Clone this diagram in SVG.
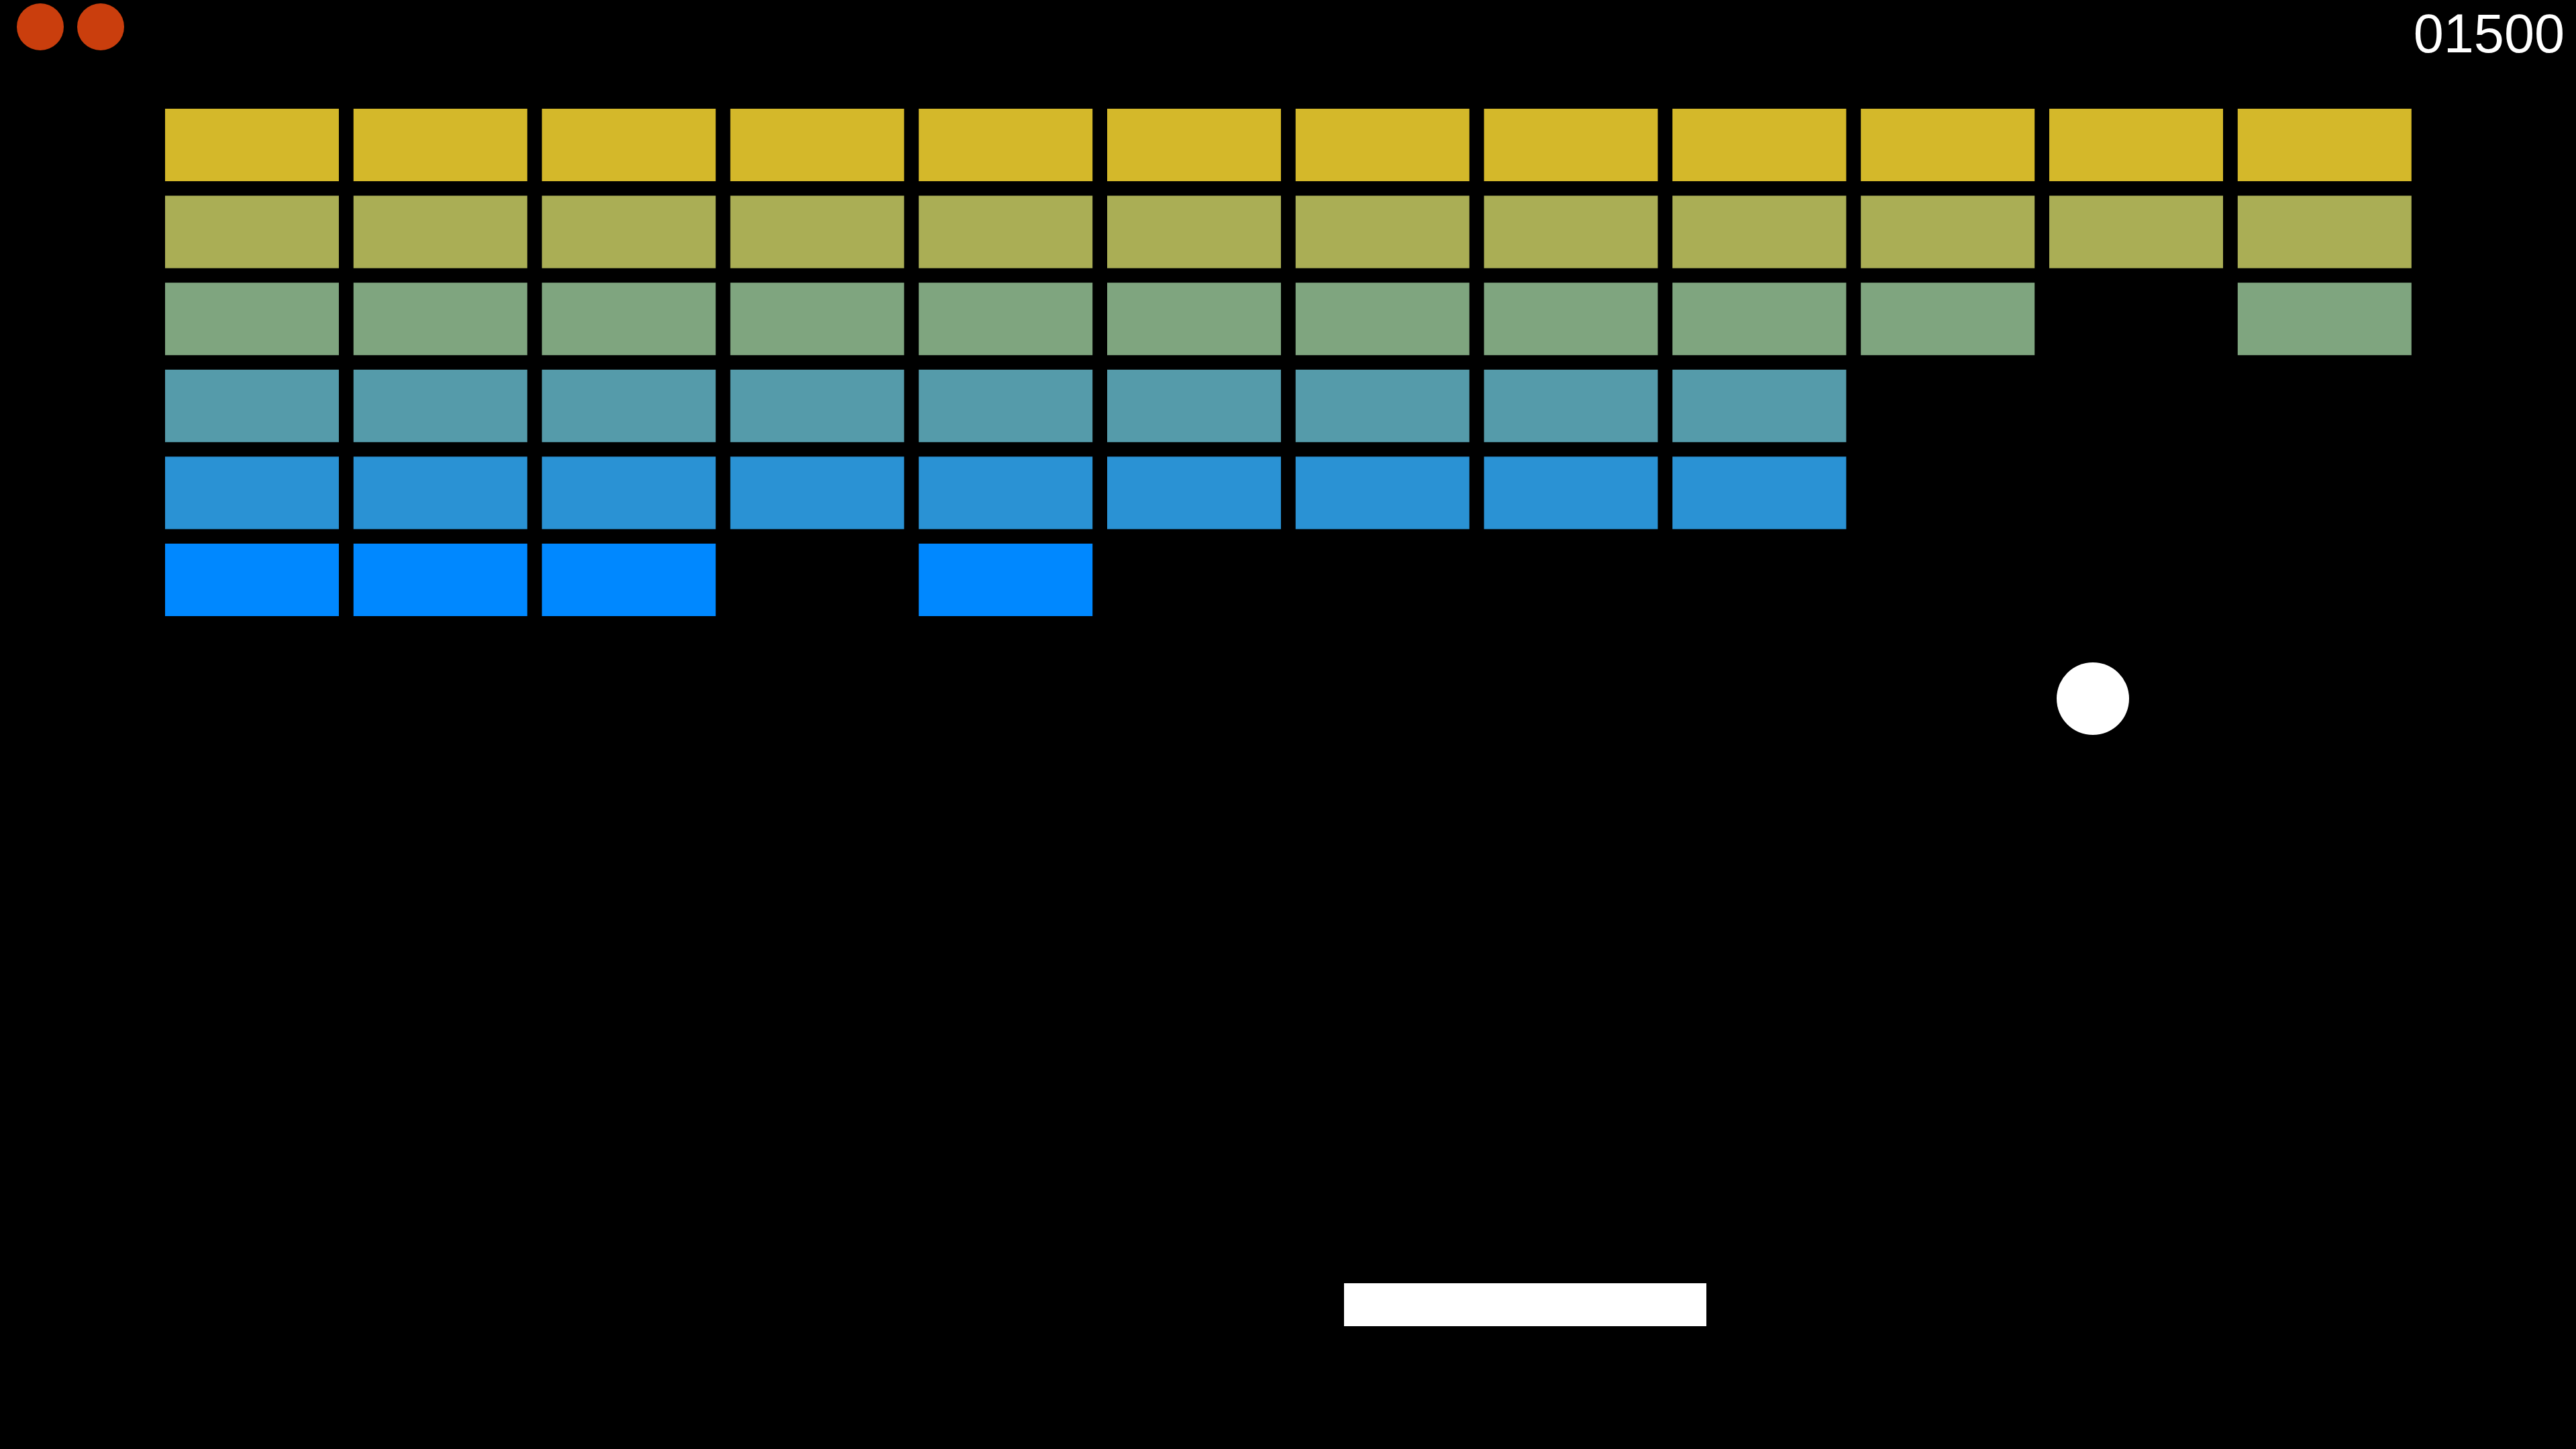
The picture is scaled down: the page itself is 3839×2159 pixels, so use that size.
<svg xmlns="http://www.w3.org/2000/svg" width="3839" height="2159" viewBox="0 0 3839 2159">
<style>
.r1{fill:#D4B82A}.r2{fill:#AAAE55}.r3{fill:#7FA57F}.r4{fill:#559BAA}.r5{fill:#2A92D4}.r6{fill:#0088FF}
.life{fill:#CA3E0D}
.score{font-family:"Liberation Sans",Arial,sans-serif;font-size:81px;fill:#FFFFFF}
</style>
<defs>
<rect id="brick" width="259" height="108"/>
</defs>
<rect x="0" y="0" width="3839" height="2159" fill="#000000"/>
<g id="lives">
<circle class="life" cx="60" cy="40" r="35"/>
<circle class="life" cx="150" cy="40" r="35"/>
</g>
<g id="score"><text class="score" x="3822" y="78" text-anchor="end">01500</text></g>
<g id="bricks">
<g id="row1" class="r1">
<use href="#brick" x="246" y="162"/><use href="#brick" x="526.8" y="162"/><use href="#brick" x="807.6" y="162"/><use href="#brick" x="1088.4" y="162"/><use href="#brick" x="1369.2" y="162"/><use href="#brick" x="1650" y="162"/><use href="#brick" x="1930.8" y="162"/><use href="#brick" x="2211.6" y="162"/><use href="#brick" x="2492.4" y="162"/><use href="#brick" x="2773.2" y="162"/><use href="#brick" x="3054" y="162"/><use href="#brick" x="3334.8" y="162"/>
</g>
<g id="row2" class="r2">
<use href="#brick" x="246" y="291.6"/><use href="#brick" x="526.8" y="291.6"/><use href="#brick" x="807.6" y="291.6"/><use href="#brick" x="1088.4" y="291.6"/><use href="#brick" x="1369.2" y="291.6"/><use href="#brick" x="1650" y="291.6"/><use href="#brick" x="1930.8" y="291.6"/><use href="#brick" x="2211.6" y="291.6"/><use href="#brick" x="2492.4" y="291.6"/><use href="#brick" x="2773.2" y="291.6"/><use href="#brick" x="3054" y="291.6"/><use href="#brick" x="3334.8" y="291.6"/>
</g>
<g id="row3" class="r3">
<use href="#brick" x="246" y="421.2"/><use href="#brick" x="526.8" y="421.2"/><use href="#brick" x="807.6" y="421.2"/><use href="#brick" x="1088.4" y="421.2"/><use href="#brick" x="1369.2" y="421.2"/><use href="#brick" x="1650" y="421.2"/><use href="#brick" x="1930.8" y="421.2"/><use href="#brick" x="2211.6" y="421.2"/><use href="#brick" x="2492.4" y="421.2"/><use href="#brick" x="2773.2" y="421.2"/><use href="#brick" x="3334.8" y="421.2"/>
</g>
<g id="row4" class="r4">
<use href="#brick" x="246" y="550.8"/><use href="#brick" x="526.8" y="550.8"/><use href="#brick" x="807.6" y="550.8"/><use href="#brick" x="1088.4" y="550.8"/><use href="#brick" x="1369.2" y="550.8"/><use href="#brick" x="1650" y="550.8"/><use href="#brick" x="1930.8" y="550.8"/><use href="#brick" x="2211.6" y="550.8"/><use href="#brick" x="2492.4" y="550.8"/>
</g>
<g id="row5" class="r5">
<use href="#brick" x="246" y="680.4"/><use href="#brick" x="526.8" y="680.4"/><use href="#brick" x="807.6" y="680.4"/><use href="#brick" x="1088.4" y="680.4"/><use href="#brick" x="1369.2" y="680.4"/><use href="#brick" x="1650" y="680.4"/><use href="#brick" x="1930.8" y="680.4"/><use href="#brick" x="2211.6" y="680.4"/><use href="#brick" x="2492.4" y="680.4"/>
</g>
<g id="row6" class="r6">
<use href="#brick" x="246" y="810"/><use href="#brick" x="526.8" y="810"/><use href="#brick" x="807.6" y="810"/><use href="#brick" x="1369.2" y="810"/>
</g>
</g>
<g id="ball"><circle cx="3119" cy="1041" r="54" fill="#FFFFFF"/></g>
<g id="paddle"><rect x="2003" y="1912" width="540" height="64" fill="#FFFFFF"/></g>
</svg>
